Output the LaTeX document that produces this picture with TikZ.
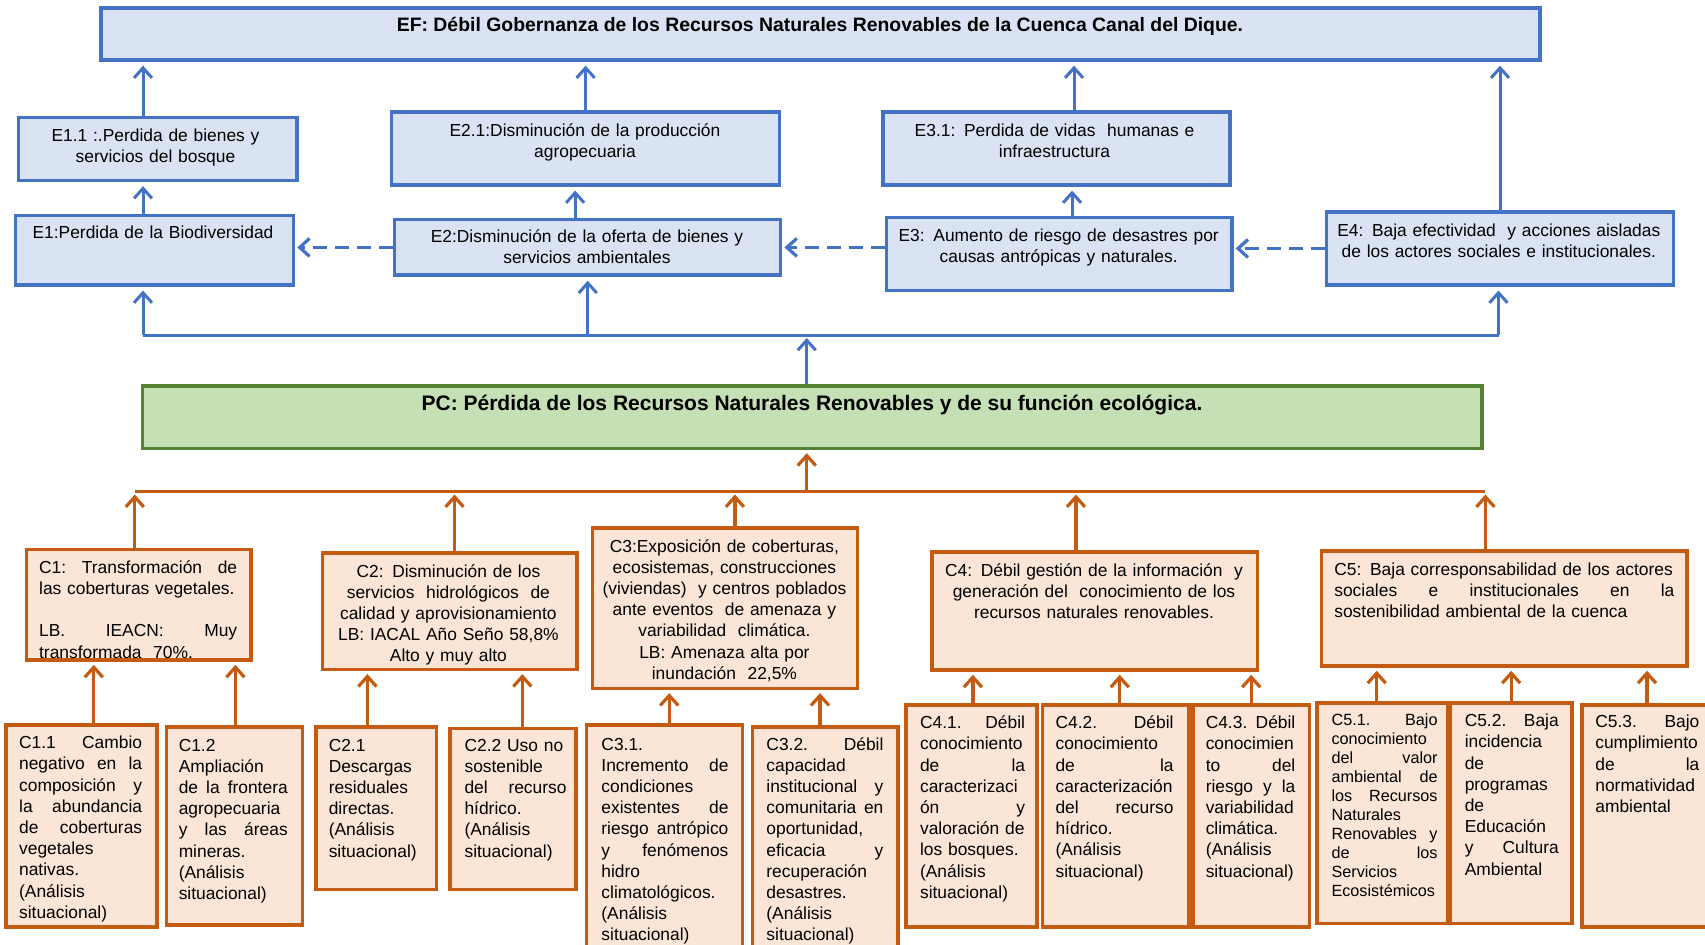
\documentclass[tikz,border=0pt]{standalone}
\usepackage{fontspec}
\setmainfont{Liberation Sans}
\usetikzlibrary{arrows.meta,fit}

\definecolor{efline}{RGB}{68,114,196}
\definecolor{effill}{RGB}{218,227,243}
\definecolor{pcline}{RGB}{84,130,53}
\definecolor{pcfill}{RGB}{197,224,180}
\definecolor{corange}{RGB}{197,90,17}
\definecolor{cfill}{RGB}{251,229,214}

\tikzset{every picture/.style={line width=0.75pt}}
\tikzset{
  ebox/.style={draw=efline,fill=effill,line width=1.65pt,inner sep=0pt},
  pcbox/.style={draw=pcline,fill=pcfill,line width=1.7pt,inner sep=0pt},
  cbox/.style={draw=corange,fill=cfill,line width=1.8pt,inner sep=0pt},
  txt/.style={inner sep=0pt,anchor=base,align=center,font=\fontsize{8.7}{10.6}\selectfont},
  ltxt/.style={txt,anchor=base west,align=left},
  barr/.style={draw=efline,line width=1.5pt,-{Straight Barb[length=5pt,width=9pt]},shorten >=2pt},
  bdash/.style={barr,line width=1.6pt,dash pattern=on 7pt off 4pt,shorten >=1pt},
  bbus/.style={draw=efline,line width=1.5pt},
  carr/.style={draw=corange,line width=1.6pt,-{Straight Barb[length=5pt,width=9pt]},shorten >=1.5pt},
  cbus/.style={draw=corange,line width=1.6pt}
}

\begin{document}
\begin{tikzpicture}[x=0.5pt,y=0.5pt,yscale=-1,xscale=1]
\useasboundingbox (0,0) rectangle (1705,944);
\clip (0,0) rectangle (1705,944);

%Shape: Rectangle (EF)
\node[ebox,fit={(101,8) (1540,60)}] (ef) {};
% Text Node
\node[txt,font=\fontsize{9.7}{11}\selectfont\bfseries] (eft) at (820,31) {EF: Débil Gobernanza de los Recursos Naturales Renovables de la Cuenca Canal del Dique.};

%Shape: Rectangle (effects, row 2)
\node[ebox,fit={(18.5,117.4) (296.9,180.5)}] (e11) {};
\node[ebox,fit={(391.5,112) (779.7,184.9)}] (e21) {};
\node[ebox,fit={(883,112) (1229.9,184.9)}] (e31) {};
%Shape: Rectangle (effects, row 1)
\node[ebox,fit={(15.2,215.3) (293.6,284.9)}] (e1) {};
\node[ebox,fit={(394.7,219.7) (780.8,275.1)}] (e2) {};
\node[ebox,fit={(886.2,217.5) (1232,290.3)}] (e3) {};
\node[ebox,fit={(1326.6,212) (1673.5,284.9)}] (e4) {};

% Text Node
\node[txt,text width=135pt] (e11t) at (155.5,141) {E1.1 :.Perdida de bienes y\\ servicios del bosque};
\node[txt,text width=160pt] (e21t) at (585,136) {E2.1:Disminución de la producción\\ agropecuaria};
\node[txt,text width=160pt] (e31t) at (1054.5,136) {E3.1: Perdida de vidas\ \ humanas e\\ infraestructura};
\node[txt,text width=135pt] (e1t) at (153,238.3) {E1:Perdida de la Biodiversidad};
\node[txt,text width=170pt] (e2t) at (587,242.7) {E2:Disminución de la oferta de bienes y\\ servicios ambientales};
\node[txt,text width=170pt] (e3t) at (1058.7,241.7) {E3: Aumento de riesgo de desastres por\\ causas antrópicas y naturales.};
\node[txt,text width=170pt] (e4t) at (1498.8,236) {E4: Baja efectividad\ \ y acciones aisladas\\ de los actores sociales e institucionales.};

%Straight Lines (effects)
\draw[barr] ([xshift=-7.35pt]e11.north) -- ([xshift=-7.35pt]e11.north |- ef.south);
\draw[barr] (e21.north) -- (e21.north |- ef.south);
\draw[barr] ([xshift=8.8pt]e31.north) -- ([xshift=8.8pt]e31.north |- ef.south);
\draw[barr] (e4.north) -- (e4.north |- ef.south);
\draw[barr] ([xshift=-5.7pt]e1.north) -- ([xshift=-5.7pt]e1.north |- e11.south);
\draw[barr] ([xshift=-6.3pt]e2.north) -- ([xshift=-6.3pt]e2.north |- e21.south);
\draw[barr] ([xshift=6.5pt]e3.north) -- ([xshift=6.5pt]e3.north |- e31.south);
%Straight Lines (dashed)
\draw[bdash] (e2.west) -- (e2.west -| e1.east);
\draw[bdash] (e3.west |- e2.west) -- (e2.east);
\draw[bdash] (e4.west) -- (e4.west -| e3.east);

%Straight Lines (blue bus)
\coordinate (ebl) at (143,335);
\coordinate (ebr) at (1498.5,335);
\draw[bbus] (ebl) -- (ebr);
\draw[barr] (ebl) -- (ebl |- e1.south);
\draw[barr] (e2.south |- ebl) -- (e2.south);
\draw[barr] (ebr) -- (ebr |- e4.south);

%Shape: Rectangle (PC)
\node[pcbox,fit={(142.4,386) (1482.1,448.5)}] (pc) {};
% Text Node
\node[txt,font=\fontsize{10.5}{12}\selectfont\bfseries] (pct) at (812,410) {PC: Pérdida de los Recursos Naturales Renovables y de su función ecológica.};
\draw[barr,shorten >=1.5pt] ([xshift=-2.75pt]pc.north) -- ([xshift=-2.75pt]pc.north |- ebl);

%Shape: Rectangle (causes)
\node[cbox,fit={(26.3,549.3) (251.2,660)}] (c1) {};
\node[cbox,fit={(322.5,552.7) (577,669.3)}] (c2) {};
\node[cbox,fit={(592.4,527.7) (857.4,688.3)}] (c3) {};
\node[cbox,fit={(931.8,551.7) (1257.3,670)}] (c4) {};
\node[cbox,fit={(1321.6,550.7) (1687,666)}] (c5) {};

% Text Node
\node[ltxt,text width=99pt] (c1t) at (38.4,573.3) {C1:\hfill Transformación\hfill de\\ las coberturas vegetales.\\[10.6pt] LB.\hfill IEACN:\hfill Muy\\ transformada\ \ 70\%.};
\node[txt,text width=118pt] (c2t) at (448.4,577) {C2: Disminución de los\\ servicios\ \ hidrológicos\ \ de\\ calidad y aprovisionamiento\\ LB: IACAL Año Seño 58,8\%\\ Alto y muy alto};
\node[txt,text width=128pt] (c3t) at (724.4,552) {C3:Exposición de coberturas,\\ ecosistemas, construcciones\\ (viviendas)\ \ y centros poblados\\ ante eventos\ \ de amenaza y\\ variabilidad\ \ climática.\\ LB: Amenaza alta por\\ inundación\ \ 22,5\%};
\node[txt,text width=155pt] (c4t) at (1094,576) {C4: Débil gestión de la información\ \ y\\ generación del\ \ conocimiento de los\\ recursos naturales renovables.};
\node[ltxt,text width=170pt] (c5t) at (1333.6,575) {C5: Baja corresponsabilidad de los actores\\ sociales\hfill e\hfill institucionales\hfill en\hfill la\\ sostenibilidad ambiental de la cuenca};

%Straight Lines (orange bus)
\coordinate (cbl) at (134.8,491.5);
\coordinate (cbr) at (1485.4,491.5);
\draw[cbus] (cbl) -- (cbr);
\draw[carr] ([xshift=-2.75pt]pc.south |- cbl) -- ([xshift=-2.75pt]pc.south);
\draw[carr] (cbl |- c1.north) -- (cbl);
\draw[carr] ([xshift=2.4pt]c2.north) -- ([xshift=2.4pt]c2.north |- cbl);
\draw[carr] ([xshift=5pt]c3.north) -- ([xshift=5pt]c3.north |- cbl);
\draw[carr] ([xshift=-9.3pt]c4.north) -- ([xshift=-9.3pt]c4.north |- cbl);
\draw[carr] (cbr |- c5.north) -- (cbr);

%Shape: Rectangle (sub-causes)
\node[cbox,fit={(5.7,725) (156.9,927)}] (c11) {};
\node[cbox,fit={(166.5,726.7) (302.3,925)}] (c12) {};
\node[cbox,fit={(315.7,726.7) (436.3,889.3)}] (c21) {};
\node[cbox,fit={(449.7,728.3) (576,889.3)}] (c22) {};
\node[cbox,fit={(586.4,725) (742.5,960)}] (c31) {};
\node[cbox,fit={(752.5,726.7) (897.9,960)}] (c32) {};
\node[cbox,fit={(905.7,705) (1037.1,926.7)}] (c41) {};
\node[cbox,fit={(1042.5,705) (1189,926.7)}] (c42) {};
\node[cbox,fit={(1192.8,705) (1309.6,926.7)}] (c43) {};
\node[cbox,fit={(1317,702.7) (1447.6,923.3)}] (c51) {};
\node[cbox,fit={(1450.2,702.7) (1572.2,923.3)}] (c52) {};
\node[cbox,fit={(1582,705) (1720,926.7)}] (c53) {};

% Text Node
\node[ltxt,text width=61.5pt] (c11t) at (18.4,748.7) {C1.1\hfill Cambio\\ negativo\hfill en\hfill la\\ composición\hfill y\\ la\hfill abundancia\\ de\hfill coberturas\\ vegetales\\ nativas.\\ (Análisis\\ situacional)};
\node[ltxt,text width=54.5pt] (c12t) at (178,751) {C1.2\\ Ampliación\\ de\hfill la\hfill frontera\\ agropecuaria\\ y\hfill las\hfill áreas\\ mineras.\\ (Análisis\\ situacional)};
\node[ltxt,text width=48pt] (c21t) at (328,751) {C2.1\\ Descargas\\ residuales\\ directas.\\ (Análisis\\ situacional)};
\node[ltxt,text width=51pt] (c22t) at (463.8,751) {C2.2 Uso no\\ sostenible\\ del\hfill recurso\\ hídrico.\\ (Análisis\\ situacional)};
\node[ltxt,text width=63.5pt] (c31t) at (600.7,750) {C3.1.\\ Incremento\hfill de\\ condiciones\\ existentes\hfill de\\ riesgo\hfill antrópico\\ y\hfill fenómenos\\ hidro\\ climatológicos.\\ (Análisis\\ situacional)};
\node[ltxt,text width=58.5pt] (c32t) at (765.7,750) {C3.2.\hfill Débil\\ capacidad\\ institucional\hfill y\\ comunitaria\hfill en\\ oportunidad,\\ eficacia\hfill y\\ recuperación\\ desastres.\\ (Análisis\\ situacional)};
\node[ltxt,text width=52.5pt] (c41t) at (919.3,728.7) {C4.1.\hfill Débil\\ conocimiento\\ de\hfill la\\ caracterizaci\\ ón\hfill y\\ valoración de\\ los bosques.\\ (Análisis\\ situacional)};
\node[ltxt,text width=59pt] (c42t) at (1054.8,728.7) {C4.2.\hfill Débil\\ conocimiento\\ de\hfill la\\ caracterización\\ del\hfill recurso\\ hídrico.\\ (Análisis\\ situacional)};
\node[ltxt,text width=44.8pt] (c43t) at (1205,728.7) {C4.3.\hfill Débil\\ conocimien\\ to\hfill del\\ riesgo\hfill y\hfill la\\ variabilidad\\ climática.\\ (Análisis\\ situacional)};
\node[ltxt,text width=53pt,font=\fontsize{8.1}{9.5}\selectfont] (c51t) at (1330.8,725) {C5.1.\hfill Bajo\\ conocimiento\\ del\hfill valor\\ ambiental\hfill de\\ los\hfill Recursos\\ Naturales\\ Renovables\hfill y\\ de\hfill los\\ Servicios\\ Ecosistémicos};
\node[ltxt,text width=47pt] (c52t) at (1464,726.7) {C5.2.\hfill Baja\\ incidencia\\ de\\ programas\\ de\\ Educación\\ y\hfill Cultura\\ Ambiental};
\node[ltxt,text width=52pt] (c53t) at (1594.6,727.7) {C5.3.\hfill Bajo\\ cumplimiento\\ de\hfill la\\ normatividad\\ ambiental};

%Straight Lines (sub-causes)
\draw[carr] ([xshift=6.25pt]c11.north) -- ([xshift=6.25pt]c11.north |- c1.south);
\draw[carr] ([xshift=0.5pt]c12.north) -- ([xshift=0.5pt]c12.north |- c1.south);
\draw[carr] ([xshift=-4.3pt]c21.north) -- ([xshift=-4.3pt]c21.north |- c2.south);
\draw[carr] ([xshift=4.75pt]c22.north) -- ([xshift=4.75pt]c22.north |- c2.south);
\draw[carr] ([xshift=2.4pt]c31.north) -- ([xshift=2.4pt]c31.north |- c3.south);
\draw[carr] ([xshift=-2.6pt]c32.north) -- ([xshift=-2.6pt]c32.north |- c3.south);
\draw[carr] ([xshift=0.75pt]c41.north) -- ([xshift=0.75pt]c41.north |- c4.south);
\draw[carr] ([xshift=2pt]c42.north) -- ([xshift=2pt]c42.north |- c4.south);
\draw[carr] (c43.north) -- (c43.north |- c4.south);
\draw[carr] ([xshift=-2.8pt]c51.north) -- ([xshift=-2.8pt]c51.north |- c5.south);
\draw[carr] (c52.north) -- (c52.north |- c5.south);
\draw[carr] ([xshift=-2pt]c53.north) -- ([xshift=-2pt]c53.north |- c5.south);

\end{tikzpicture}
\end{document}
